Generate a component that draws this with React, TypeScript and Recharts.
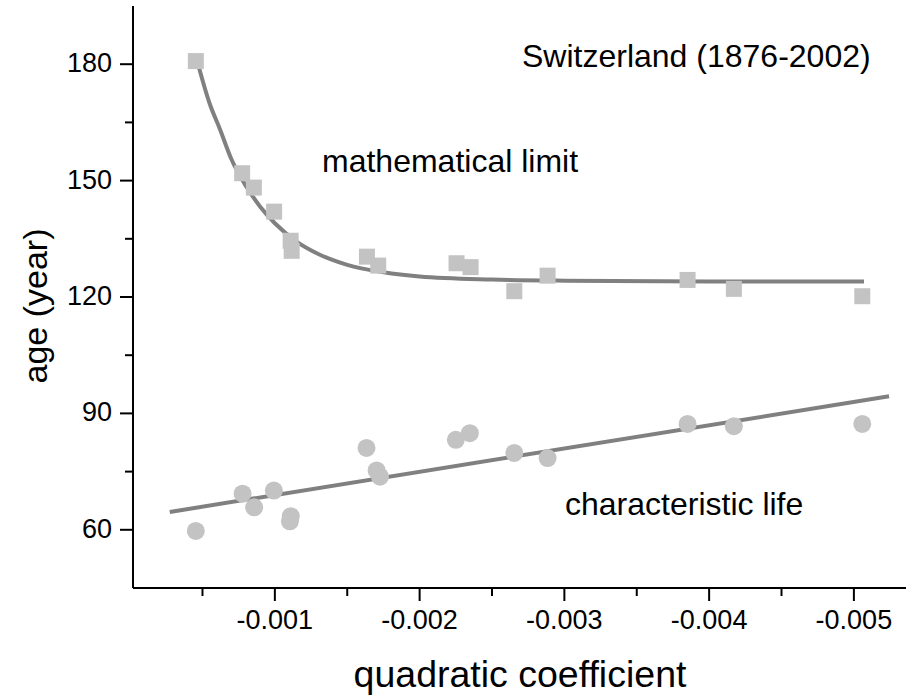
import React from "react";
import { ComposedChart, Scatter, Line, XAxis, YAxis } from "recharts";

// quadratic coefficient vs age, Switzerland 1876-2002
const limitX = [-0.000454, -0.000774, -0.000855, -0.000995, -0.001109, -0.001116, -0.001636, -0.001714, -0.002255, -0.002352, -0.002654, -0.002884, -0.003851, -0.004171, -0.005058];
const limitY = [180.8, 151.9, 148.2, 142.0, 134.5, 131.9, 130.4, 128.1, 128.7, 127.7, 121.5, 125.5, 124.4, 122.1, 120.2];

const lifeX = [-0.000454, -0.000777, -0.000857, -0.000993, -0.00111, -0.001104, -0.001633, -0.001703, -0.001726, -0.00225, -0.002347, -0.002654, -0.002884, -0.003851, -0.004171, -0.005058];
const lifeY = [59.7, 69.3, 65.8, 70.1, 63.5, 62.2, 81.1, 75.3, 73.7, 83.2, 84.9, 79.8, 78.5, 87.3, 86.7, 87.3];

// fitted curves
const limitFitX = [-0.00046, -0.00055, -0.00062, -0.0007, -0.0008, -0.0009, -0.001, -0.00115, -0.0013, -0.0015, -0.00175, -0.002, -0.0025, -0.003, -0.004, -0.00507];
const limitFitY = [181.3, 169.8, 163.3, 155.5, 148.6, 143.2, 139.0, 134.3, 131.1, 128.3, 126.4, 125.3, 124.5, 124.2, 124.0, 124.0];

const lifeFitX = [-0.000274, -0.005243];
const lifeFitY = [64.6, 94.4];

const xTicks = [-0.0005, -0.001, -0.0015, -0.002, -0.0025, -0.003, -0.0035, -0.004, -0.0045, -0.005];
const yTicks = [60, 75, 90, 105, 120, 135, 150, 165, 180];

const zip = (xs: number[], ys: number[]) => xs.map((x, i) => ({ x, y: ys[i] }));

const FONT = '"Liberation Sans", Arial, sans-serif';
const MARK = "#c3c3c3";
const FIT = "#808080";

const XTick = (props: any) => {
  const { x, y, payload } = props;
  const major = Math.round(Math.abs(payload.value) * 10000) % 10 === 0;
  return (
    <g>
      <line x1={x} x2={x} y1={y} y2={y + (major ? 13 : 8)} stroke="#000" strokeWidth={2} />
      {major && (
        <text x={x} y={y + 32} textAnchor="middle" dominantBaseline="central" fontSize={27} fontFamily={FONT} fill="#000">
          {payload.value.toFixed(3)}
        </text>
      )}
    </g>
  );
};

const YTick = (props: any) => {
  const { x, y, payload } = props;
  const major = payload.value % 30 === 0;
  return (
    <g>
      <line x1={x - (major ? 13 : 8)} x2={x} y1={y} y2={y} stroke="#000" strokeWidth={2} />
      {major && (
        <text x={x - 21} y={y - 1} textAnchor="end" dominantBaseline="central" fontSize={27} fontFamily={FONT} fill="#000">
          {payload.value}
        </text>
      )}
    </g>
  );
};

const Square = (props: any) => {
  const { cx, cy } = props;
  return <rect x={cx - 8} y={cy - 8} width={16} height={16} fill={MARK} />;
};

const Dot = (props: any) => {
  const { cx, cy } = props;
  return <circle cx={cx} cy={cy} r={9} fill={MARK} />;
};

export default function App() {
  return (
    <div style={{ position: "absolute", left: 0, top: 0, background: "#fff" }}>
      <ComposedChart width={906} height={700} margin={{ top: 6, right: 0, bottom: 0, left: 0 }}>
        <XAxis
          type="number"
          dataKey="x"
          domain={[-0.00536, -0.00002]}
          reversed
          allowDataOverflow
          ticks={xTicks}
          tick={<XTick />}
          tickLine={false}
          tickSize={0}
          tickMargin={0}
          height={112}
          axisLine={{ stroke: "#000", strokeWidth: 2 }}
        />
        <YAxis
          type="number"
          dataKey="y"
          domain={[45, 195]}
          allowDataOverflow
          ticks={yTicks}
          tick={<YTick />}
          tickLine={false}
          tickSize={0}
          tickMargin={0}
          width={133}
          axisLine={{ stroke: "#000", strokeWidth: 2 }}
        />
        <Scatter data={zip(limitX, limitY)} shape={<Square />} isAnimationActive={false} />
        <Scatter data={zip(lifeX, lifeY)} shape={<Dot />} isAnimationActive={false} />
        <Line data={zip(limitFitX, limitFitY)} dataKey="y" type="monotone" stroke={FIT} strokeWidth={4} dot={false} activeDot={false} isAnimationActive={false} />
        <Line data={zip(lifeFitX, lifeFitY)} dataKey="y" type="linear" stroke={FIT} strokeWidth={4} dot={false} activeDot={false} isAnimationActive={false} />
        <text x={522} y={67} fontSize={32} fontFamily={FONT} fill="#000">Switzerland (1876-2002)</text>
        <text x={322} y={172} fontSize={32} fontFamily={FONT} fill="#000">mathematical limit</text>
        <text x={565} y={515} fontSize={32} fontFamily={FONT} fill="#000">characteristic life</text>
        <text x={520} y={687} textAnchor="middle" fontSize={37.5} fontFamily={FONT} fill="#000">quadratic coefficient</text>
        <text x={47} y={306} textAnchor="middle" transform="rotate(-90 47 306)" fontSize={34} fontFamily={FONT} fill="#000">age (year)</text>
      </ComposedChart>
    </div>
  );
}
